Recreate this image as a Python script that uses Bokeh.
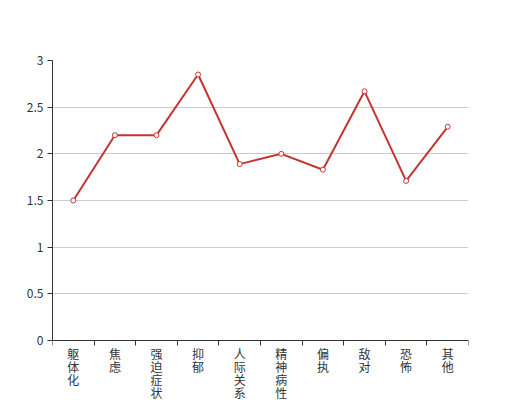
from bokeh.plotting import figure
from bokeh.models import ColumnDataSource, Range1d, FixedTicker, LinearAxis
from bokeh.embed import file_html
from bokeh.resources import INLINE

categories = ["躯体化", "焦虑", "强迫症状", "抑郁", "人际关系敏感", "精神病性", "偏执", "敌对", "恐怖", "其他"]
values = [1.5, 2.2, 2.2, 2.85, 1.89, 2.0, 1.83, 2.67, 1.71, 2.29]
y_ticks = [0, 0.5, 1, 1.5, 2, 2.5, 3]

n = len(categories)
xs = [i + 0.5 for i in range(n)]
src = ColumnDataSource(dict(x=xs, y=values))

RED = "#c23531"
FONT = "Noto Sans CJK SC"
AX = "#333333"

W, H = 520, 400
top, bottom = 60, 0
frame_h = H - top - bottom          # frame reaches the bottom edge
px_per_unit = 280 / 3.0             # 0..3 spans 280px
y_start = -(frame_h - 280) / px_per_unit

p = figure(width=W, height=H, output_backend="svg", toolbar_location=None,
           x_range=Range1d(0, n), y_range=Range1d(y_start, 3),
           x_axis_location=None,
           min_border_left=52, min_border_right=52, min_border_top=top, min_border_bottom=bottom)
p.outline_line_color = None
p.background_fill_color = "white"
p.border_fill_color = "white"

p.xgrid.visible = False
p.ygrid.grid_line_color = "#cccccc"
p.ygrid.ticker = FixedTicker(ticks=y_ticks)

p.yaxis.ticker = FixedTicker(ticks=y_ticks)
p.yaxis.bounds = (0, 3)
p.yaxis.major_label_overrides = {0: "0", 1: "1", 2: "2", 3: "3"}
p.yaxis.axis_line_color = AX
p.yaxis.major_tick_line_color = AX
p.yaxis.major_tick_in = 0
p.yaxis.major_tick_out = 5
p.yaxis.minor_tick_line_color = None
p.yaxis.major_label_text_font = FONT
p.yaxis.major_label_text_font_size = "12px"
p.yaxis.major_label_text_color = AX
p.yaxis.major_label_standoff = 4

xaxis = LinearAxis(fixed_location=0)
xaxis.ticker = FixedTicker(ticks=xs, minor_ticks=list(range(n + 1)))
xaxis.major_label_overrides = {x: "\n".join(list(c)) for x, c in zip(xs, categories)}
xaxis.axis_line_color = AX
xaxis.major_tick_line_color = None
xaxis.minor_tick_line_color = AX
xaxis.minor_tick_in = 0
xaxis.minor_tick_out = 5
xaxis.major_label_standoff = -2
xaxis.major_label_text_font = FONT
xaxis.major_label_text_font_size = "12px"
xaxis.major_label_text_color = AX
xaxis.major_label_text_line_height = 0.78
p.add_layout(xaxis, "below")

p.line("x", "y", source=src, line_color=RED, line_width=2)
p.scatter("x", "y", source=src, size=5, fill_color="white", line_color=RED, line_width=1)

open("out.html", "w").write(file_html(p, INLINE))
